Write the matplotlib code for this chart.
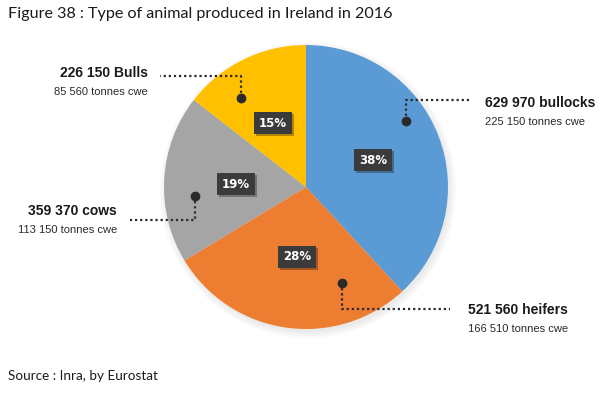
import matplotlib
matplotlib.use('Agg')
import matplotlib.pyplot as plt
import matplotlib.patheffects as pe
from matplotlib.patches import Circle

# data (pie drawn from tonnes cwe, which give the printed percentages)
animals = ['bullocks', 'heifers', 'cows', 'Bulls']
heads = ['629 970', '521 560', '359 370', '226 150']
tonnes = [225150, 166510, 113150, 85560]
tonnes_lbl = ['225 150', '166 510', '113 150', '85 560']
pct_lbl = ['38%', '28%', '19%', '15%']
colors = ['#5B9BD5', '#ED7D31', '#A5A5A5', '#FFC000']

W, H = 600, 394
fig = plt.figure(figsize=(W / 100, H / 100), dpi=100)
ax = fig.add_axes([0, 0, 1, 1])


def py(y):
    # pixel row (from top) -> data y
    return H - y


cx, cy, R = 306, py(187), 142

# soft shadow behind the pie
for i, a in enumerate([0.05, 0.05, 0.05, 0.06]):
    ax.add_patch(Circle((cx + 2, cy - 3), R + 6 - 2 * i, color='#9a9a9a',
                        alpha=a, lw=0, zorder=1))

ax.pie(tonnes, colors=colors, startangle=90, counterclock=False,
       center=(cx, cy), radius=R, frame=True,
       wedgeprops=dict(linewidth=0, zorder=2))
ax.set_xlim(0, W)
ax.set_ylim(0, H)
ax.set_aspect('equal')
ax.axis('off')

# percentage boxes
pct_pos = [(373, 160), (297, 257), (236, 184), (273, 123)]
for (x, y), t in zip(pct_pos, pct_lbl):
    tx = ax.text(x, py(y), t, ha='center', va='center', fontsize=8.5,
                 fontweight='bold', color='white', family='DejaVu Sans', zorder=5,
                 bbox=dict(boxstyle='square,pad=0.4', fc='#3b3b3b', ec='none'))
    tx.get_bbox_patch().set_path_effects(
        [pe.withSimplePatchShadow(offset=(1.5, -1.5), shadow_rgbFace='black', alpha=0.3),
         pe.Normal()])

# leader lines: dot -> corner -> end, then text
leaders = [
    dict(dot=(406, 121), corner=(406, 100), end=(470, 100), tx=485, ty=103, ha='left'),
    dict(dot=(342, 283), corner=(342, 309), end=(450, 309), tx=468, ty=310, ha='left'),
    dict(dot=(195, 196), corner=(195, 220), end=(130, 220), tx=117, ty=211, ha='right'),
    dict(dot=(241, 98), corner=(241, 76), end=(160, 76), tx=148, ty=73, ha='right'),
]
for i, L in enumerate(leaders):
    xs = [L['dot'][0], L['corner'][0], L['end'][0]]
    ys = [py(L['dot'][1]), py(L['corner'][1]), py(L['end'][1])]
    ax.plot(xs, ys, color='#2a2a2a', lw=1.6, ls=(0, (1, 1.3)), zorder=6,
            solid_capstyle='butt')
    ax.plot(xs[0], ys[0], 'o', ms=6, color='#2a2a2a', zorder=7)
    ax.text(L['tx'], py(L['ty']), heads[i] + ' ' + animals[i], ha=L['ha'],
            va='center', fontsize=10, fontweight='bold', color='#1a1a1a',
            family='Liberation Sans')
    ax.text(L['tx'], py(L['ty'] + 19), tonnes_lbl[i] + ' tonnes cwe', ha=L['ha'],
            va='center', fontsize=8, color='#2a2a2a', family='Liberation Sans')

ax.text(8, py(14), 'Figure 38 : Type of animal produced in Ireland in 2016',
        ha='left', va='center', fontsize=11.6, color='#1a1a1a', family='Lato')
ax.text(8, py(376), 'Source : Inra, by Eurostat', ha='left', va='center',
        fontsize=9.7, color='#1a1a1a', family='Lato')

fig.savefig('out.png', dpi=100)
